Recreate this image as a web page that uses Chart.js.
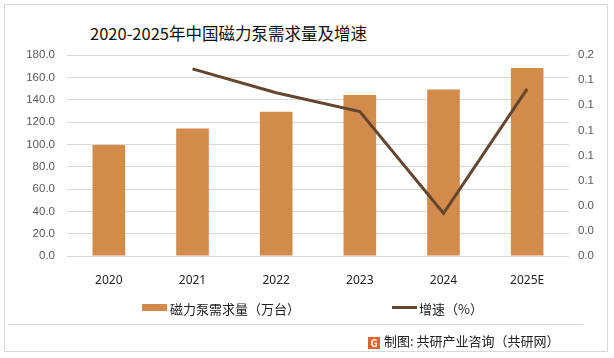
<!DOCTYPE html>
<html><head><meta charset="utf-8">
<script src="https://cdn.jsdelivr.net/npm/chart.js@4/dist/chart.umd.min.js"></script>
<style>
html,body{margin:0;padding:0;background:#fff;}
#wrap{position:relative;width:614px;height:358px;overflow:hidden;font-family:"Noto Sans CJK SC","Noto Sans",sans-serif;}
#frame{position:absolute;left:4px;top:4px;width:604px;height:348px;border:1px solid #d9d9d9;box-sizing:border-box;}
#sep{position:absolute;left:8px;top:324px;width:575px;height:1px;background:#d9d9d9;}
#title{position:absolute;left:90px;top:21px;font-size:16.5px;color:#111;white-space:nowrap;}
canvas{position:absolute;left:0;top:0;}
.leg{position:absolute;top:299px;font-size:13px;color:#222;white-space:nowrap;}
#src{position:absolute;left:368px;top:331px;font-size:13px;color:#222;white-space:nowrap;}
#logo{display:inline-block;width:12px;height:12px;background:#e8622a;color:#fff;font-size:10px;line-height:12px;text-align:center;font-weight:bold;vertical-align:-1px;margin-right:4px;}
</style></head>
<body><div id="wrap">
<div id="frame"></div>
<div id="sep"></div>
<div id="title">2020-2025年中国磁力泵需求量及增速</div>
<canvas id="c" width="614" height="358"></canvas>
<div class="leg" style="left:142px;"><span style="display:inline-block;width:25px;height:7px;background:#D38B4C;vertical-align:3px;margin-right:3px;"></span>磁力泵需求量（万台）</div>
<div class="leg" style="left:392px;"><span style="display:inline-block;width:25px;height:3px;background:#634530;vertical-align:5px;margin-right:2px;"></span>增速（%）</div>
<div id="src"><span id="logo">G</span>制图: 共研产业咨询（共研网）</div>
</div>
<script>
const categories = ["2020","2021","2022","2023","2024","2025E"];
const demand = [99.5, 114.2, 129.1, 144.2, 149.0, 168.4];
const growth = [null, 0.149, 0.130, 0.115, 0.034, 0.133];
const demandLabel = "磁力泵需求量（万台）";
const growthLabel = "增速（%）";

new Chart(document.getElementById('c'), {
  data: {
    labels: categories,
    datasets: [
      {type:'line', label: growthLabel, data: growth, yAxisID:'y1', borderColor:'#634530', borderWidth:3, pointRadius:0, tension:0, order:0},
      {type:'bar', label: demandLabel, data: demand, yAxisID:'y', backgroundColor:'#D38B4C', categoryPercentage:1, barPercentage:0.39, order:1}
    ]
  },
  options: {
    responsive:false, animation:false,
    layout:{padding:{top:55,left:0,right:0,bottom:0}},
    plugins:{legend:{display:false}, title:{display:false}, tooltip:{enabled:false}},
    scales:{
      x:{
        grid:{display:false}, border:{display:false},
        ticks:{color:'#222', font:{size:12, family:"'Noto Sans','DejaVu Sans',sans-serif"}, padding:9, maxRotation:0},
        afterFit(s){ s.height = 358-256; }
      },
      y:{
        position:'left', min:0, max:180,
        grid:{color:'#d9d9d9', drawTicks:false}, border:{display:false},
        ticks:{stepSize:20, color:'#595959', padding:12, font:{size:11.5, family:"'Liberation Sans',sans-serif"}, callback:v=>v.toFixed(1)},
        afterFit(s){ s.width = 67; }
      },
      y1:{
        position:'right', min:0, max:0.16,
        grid:{display:false, drawTicks:false}, border:{display:false},
        ticks:{stepSize:0.02, color:'#595959', padding:9, font:{size:11.5, family:"'Liberation Sans',sans-serif"}, callback:v=>v.toFixed(1)},
        afterFit(s){ s.width = 45; }
      }
    }
  }
});
</script>
</body></html>
